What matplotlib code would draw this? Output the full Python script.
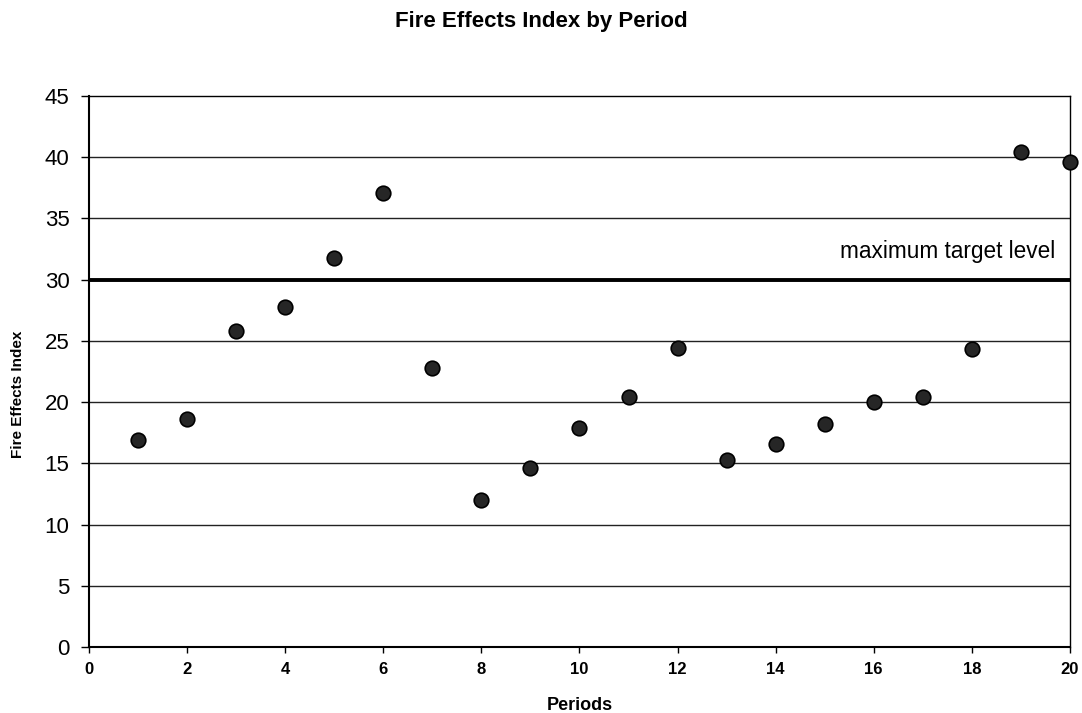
import matplotlib.pyplot as plt

plt.rcParams['font.family'] = ['Liberation Sans', 'DejaVu Sans']

# Fire effects index per period
periods = list(range(1, 21))
fei = [16.9, 18.6, 25.8, 27.8, 31.8, 37.1, 22.8, 12.0, 14.6, 17.9,
       20.4, 24.4, 15.3, 16.6, 18.2, 20.0, 20.4, 24.3, 40.4, 39.6]
target = 30

fig = plt.figure(figsize=(10.82, 7.13), dpi=100)
ax = fig.add_axes([0.0823, 0.0926, 0.9065, 0.7728])

ax.set_xlim(0, 20)
ax.set_ylim(0, 45)

# gridlines
for y in range(5, 45, 5):
    ax.axhline(y, color='#222222', lw=1.0, zorder=1)

# target line
ax.axhline(target, color='black', lw=2.8, zorder=2)
ax.text(19.7, 32.3, 'maximum target level', ha='right', va='center', fontsize=16.3)

ax.plot(periods, fei, 'o', color='#262626', mec='black', mew=1.2,
        markersize=10.5, zorder=3, clip_on=False)

ax.set_xticks(range(0, 21, 2))
ax.set_yticks(range(0, 46, 5))
ax.tick_params(axis='x', labelsize=12, length=4, width=1, pad=7)
ax.tick_params(axis='y', labelsize=16, length=6, width=1, pad=8)
for lab in ax.get_xticklabels():
    lab.set_fontweight('bold')

for s in ['left', 'bottom']:
    ax.spines[s].set_linewidth(1.5)
for s in ['top', 'right']:
    ax.spines[s].set_linewidth(1.0)

fig.text(0.536, 0.011, 'Periods', ha='center', va='center', fontsize=13, fontweight='bold')
fig.text(0.017, 0.447, 'Fire Effects Index', ha='center', va='center', rotation=90,
         fontsize=11, fontweight='bold')
fig.suptitle('Fire Effects Index by Period', fontsize=16, fontweight='bold', y=0.985)

fig.savefig('out.png')
